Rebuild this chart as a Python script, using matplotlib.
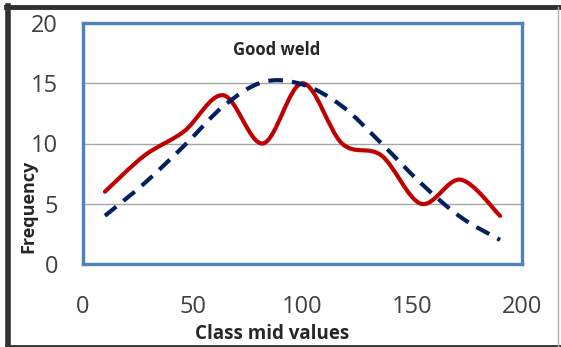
import numpy as np
import matplotlib.pyplot as plt
from matplotlib.path import Path
from matplotlib.patches import PathPatch
from matplotlib.lines import Line2D

# class mid values and frequencies
class_mid = [10, 28, 46, 64, 82, 100, 118, 136, 154, 172, 190]
freq_observed = [6, 9, 11, 14, 10, 15, 10, 9, 5, 7, 4]
freq_fitted = [4, 6.7, 9.8, 13.1, 15.1, 14.9, 13.1, 10, 6.7, 3.9, 2]

x_ticks = [0, 50, 100, 150, 200]
y_ticks = [0, 5, 10, 15, 20]

plt.rcParams['font.family'] = ['Open Sans', 'DejaVu Sans']


# Excel style smoothed line -> cubic bezier path
def smooth_path(x, y):
    pts = np.column_stack([x, y]).astype(float)
    n = len(pts)
    verts = [pts[0]]
    codes = [Path.MOVETO]
    for i in range(n - 1):
        p0 = pts[i - 1] if i > 0 else pts[i]
        p1 = pts[i]
        p2 = pts[i + 1]
        p3 = pts[i + 2] if i + 2 < n else pts[i + 1]
        c1 = p1 + (p2 - p0) / 6
        c2 = p2 - (p3 - p1) / 6
        verts += [c1, c2, p2]
        codes += [Path.CURVE4] * 3
    return Path(verts, codes)


fig = plt.figure(figsize=(5.61, 3.47), dpi=100)
ax = fig.add_axes([83 / 561, 1 - 264 / 347, 439 / 561, 241 / 347])

ax.set_xlim(0, 200)
ax.set_ylim(0, 20)
ax.set_xticks(x_ticks)
ax.set_yticks(y_ticks)
ax.tick_params(length=0, labelsize=17, colors='#404040')
ax.tick_params(axis='y', pad=18)
ax.tick_params(axis='x', pad=22)

ax.grid(axis='y', color='#a6a6a6', linewidth=1.0)
ax.set_axisbelow(True)
for s in ax.spines.values():
    s.set_color('#4f81bd')
    s.set_linewidth(2.4)

ax.add_patch(PathPatch(smooth_path(class_mid, freq_observed), fill=False,
                       edgecolor='#c00000', linewidth=3.0, capstyle='round',
                       joinstyle='round', zorder=3))
ax.add_patch(PathPatch(smooth_path(class_mid, freq_fitted), fill=False,
                       edgecolor='#002060', linewidth=3.0, linestyle=(0, (3.5, 2.2)),
                       capstyle='butt', zorder=4))

ax.text(0.44, 0.89, 'Good weld', transform=ax.transAxes, ha='center', va='center',
        fontsize=12, fontweight='bold', color='#262626')
ax.set_xlabel('Class mid values', fontsize=13.5, fontweight='bold', color='#262626')
ax.xaxis.set_label_coords(0.43, -0.25)
ax.set_ylabel('Frequency', fontsize=13, fontweight='bold', color='#262626')
ax.yaxis.set_label_coords(-0.105, 0.24)

# outer frame
fig.add_artist(Line2D([8 / 561, 8 / 561], [0, 1 - 6 / 347], transform=fig.transFigure,
                      color='#303030', linewidth=4))
fig.add_artist(Line2D([6 / 561, 1], [1 - 7 / 347, 1 - 7 / 347], transform=fig.transFigure,
                      color='#303030', linewidth=3.5))
fig.add_artist(Line2D([6 / 561, 1], [1.5 / 347, 1.5 / 347], transform=fig.transFigure,
                      color='#303030', linewidth=2))
fig.add_artist(Line2D([558 / 561, 558 / 561], [0, 1 - 7 / 347], transform=fig.transFigure,
                      color='#b0b0b0', linewidth=1))

fig.savefig('out.png', dpi=100)
